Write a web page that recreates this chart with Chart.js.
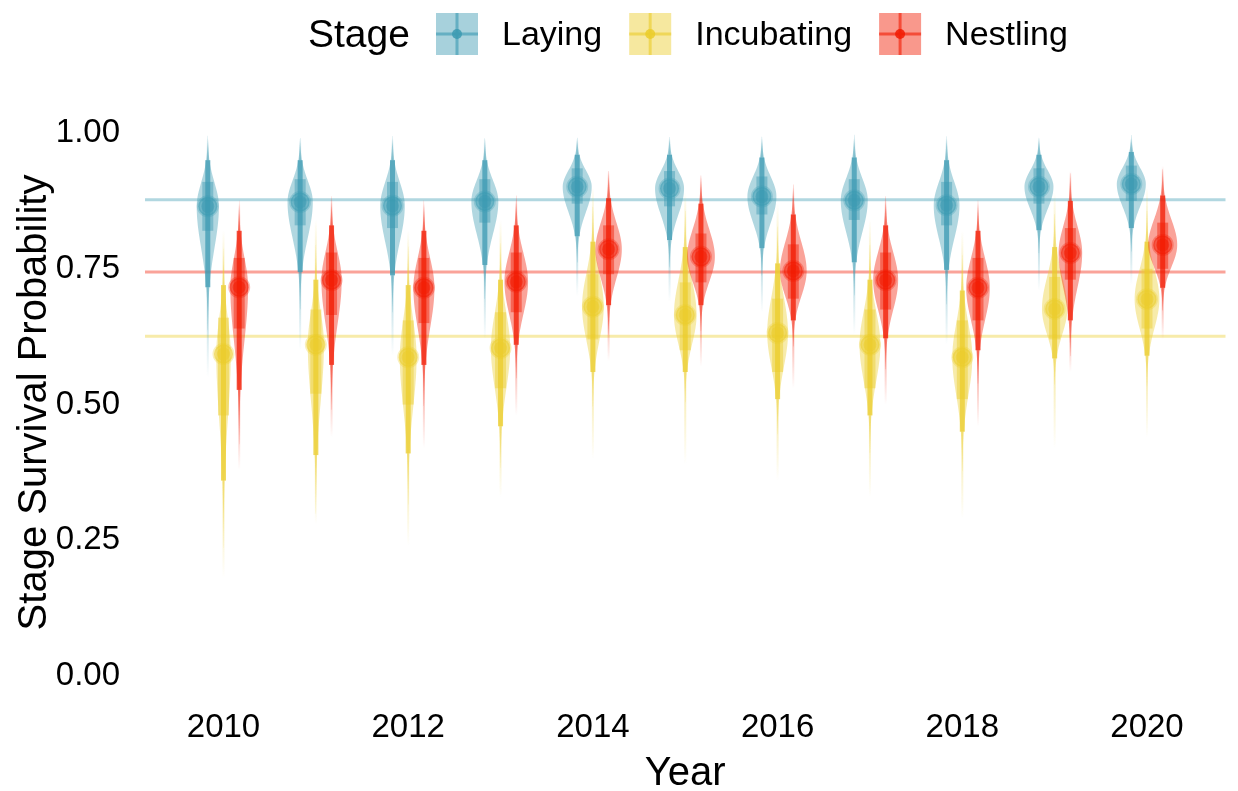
<!DOCTYPE html>
<html>
<head>
<meta charset="utf-8">
<script src="https://cdn.jsdelivr.net/npm/chart.js@4"></script>
<style>
  html, body { margin: 0; padding: 0; background: #ffffff; }
  #wrap { width: 1238px; height: 791px; }
</style>
</head>
<body>
<div id="wrap"><canvas id="myChart" width="1238" height="791"></canvas></div>
<script>
// Anni e stadi
var years = [2010, 2011, 2012, 2013, 2014, 2015, 2016, 2017, 2018, 2019, 2020];
var stages = ["Laying", "Incubating", "Nestling"];
var stageColors = ["#3B9AB2", "#EBCC2A", "#F21A00"];

// Linee di riferimento (media per stadio)
var refLines = [0.877, 0.626, 0.744];

// Laying
var layMed = [0.865, 0.873, 0.866, 0.874, 0.901, 0.898, 0.883, 0.876, 0.867, 0.901, 0.906];
var layLo66 = [0.82, 0.83, 0.825, 0.835, 0.87, 0.865, 0.85, 0.84, 0.83, 0.87, 0.875];
var layHi66 = [0.91, 0.915, 0.91, 0.915, 0.935, 0.93, 0.92, 0.915, 0.91, 0.935, 0.94];
var layLo95 = [0.716, 0.744, 0.738, 0.757, 0.81, 0.803, 0.788, 0.762, 0.748, 0.821, 0.825];
var layHi95 = [0.95, 0.95, 0.95, 0.95, 0.96, 0.96, 0.955, 0.955, 0.95, 0.96, 0.965];
var layTailLo = [0.55, 0.6, 0.59, 0.62, 0.7, 0.69, 0.67, 0.63, 0.61, 0.71, 0.72];
var layTailHi = [0.99, 0.99, 0.99, 0.99, 0.99, 0.99, 0.99, 0.99, 0.99, 0.99, 0.99];

// Incubating
var incMed = [0.593, 0.61, 0.587, 0.604, 0.68, 0.665, 0.632, 0.61, 0.587, 0.676, 0.694];
var incLo66 = [0.48, 0.52, 0.5, 0.53, 0.62, 0.6, 0.56, 0.53, 0.51, 0.62, 0.64];
var incHi66 = [0.66, 0.675, 0.655, 0.67, 0.74, 0.725, 0.695, 0.675, 0.655, 0.735, 0.75];
var incLo95 = [0.36, 0.407, 0.41, 0.46, 0.56, 0.56, 0.51, 0.48, 0.45, 0.585, 0.59];
var incHi95 = [0.72, 0.73, 0.72, 0.73, 0.8, 0.79, 0.76, 0.73, 0.71, 0.79, 0.8];
var incTailLo = [0.18, 0.28, 0.24, 0.33, 0.4, 0.39, 0.36, 0.33, 0.29, 0.42, 0.44];
var incTailHi = [0.82, 0.84, 0.82, 0.84, 0.9, 0.89, 0.87, 0.84, 0.82, 0.89, 0.9];

// Nestling
var nesMed = [0.716, 0.729, 0.715, 0.726, 0.786, 0.772, 0.746, 0.729, 0.715, 0.779, 0.794];
var nesLo66 = [0.64, 0.665, 0.65, 0.67, 0.74, 0.725, 0.695, 0.675, 0.655, 0.73, 0.75];
var nesHi66 = [0.77, 0.78, 0.77, 0.78, 0.83, 0.815, 0.795, 0.78, 0.77, 0.825, 0.835];
var nesLo95 = [0.527, 0.573, 0.573, 0.61, 0.683, 0.683, 0.655, 0.622, 0.6, 0.655, 0.715];
var nesHi95 = [0.82, 0.83, 0.82, 0.83, 0.88, 0.87, 0.85, 0.83, 0.82, 0.875, 0.885];
var nesTailLo = [0.38, 0.44, 0.42, 0.48, 0.58, 0.57, 0.53, 0.5, 0.46, 0.56, 0.62];
var nesTailHi = [0.87, 0.88, 0.87, 0.88, 0.93, 0.92, 0.9, 0.88, 0.87, 0.93, 0.94];

// Tick
var xTicks = [2010, 2012, 2014, 2016, 2018, 2020];
var yTicks = [0, 0.25, 0.5, 0.75, 1];

// Raggruppo per stadio (stesso ordine di "stages")
var med = [layMed, incMed, nesMed];
var lo66 = [layLo66, incLo66, nesLo66];
var hi66 = [layHi66, incHi66, nesHi66];
var lo95 = [layLo95, incLo95, nesLo95];
var hi95 = [layHi95, incHi95, nesHi95];
var tailLo = [layTailLo, incTailLo, nesTailLo];
var tailHi = [layTailHi, incTailHi, nesTailHi];
var dodge = [-0.17, 0, 0.17];

var FONT = "'Liberation Sans', Arial, sans-serif";

function rgba(hex, a) {
  var r = parseInt(hex.slice(1, 3), 16);
  var g = parseInt(hex.slice(3, 5), 16);
  var b = parseInt(hex.slice(5, 7), 16);
  return "rgba(" + r + "," + g + "," + b + "," + a + ")";
}

// Disegna la forma "ad occhio" (densità approssimata dagli intervalli)
function drawEye(ctx, px, ys, m, lo, hi, halfW) {
  var su = (hi - m) / 1.96;
  var sd = (m - lo) / 1.96;
  var pts = [];
  for (var k = 0; k <= 80; k++) {
    var z = -3 + (6 * k) / 80;
    var s = z < 0 ? sd : su;
    var v = m + z * s;
    pts.push([ys.getPixelForValue(v), halfW * Math.exp(-0.5 * z * z)]);
  }
  ctx.beginPath();
  pts.forEach(function (p, k) {
    if (k === 0) ctx.moveTo(px - p[1], p[0]);
    else ctx.lineTo(px - p[1], p[0]);
  });
  for (var k2 = pts.length - 1; k2 >= 0; k2--) ctx.lineTo(px + pts[k2][1], pts[k2][0]);
  ctx.closePath();
  ctx.fill();
}

function fadeLine(ctx, px, y0, y1, color) {
  var g = ctx.createLinearGradient(0, y0, 0, y1);
  g.addColorStop(0, rgba(color, 0.45));
  g.addColorStop(1, rgba(color, 0));
  ctx.strokeStyle = g;
  ctx.lineWidth = 2;
  ctx.beginPath();
  ctx.moveTo(px, y0);
  ctx.lineTo(px, y1);
  ctx.stroke();
}

var eyePlugin = {
  id: "eyes",
  beforeDatasetsDraw: function (chart) {
    var ctx = chart.ctx, xs = chart.scales.x, ys = chart.scales.y, area = chart.chartArea;
    ctx.save();
    // linee orizzontali di riferimento
    refLines.forEach(function (v, i) {
      var y = ys.getPixelForValue(v);
      ctx.strokeStyle = rgba(stageColors[i], 0.4);
      ctx.lineWidth = 3;
      ctx.beginPath();
      ctx.moveTo(area.left, y);
      ctx.lineTo(area.right, y);
      ctx.stroke();
    });
    stages.forEach(function (st, i) {
      var c = stageColors[i];
      years.forEach(function (yr, j) {
        var px = xs.getPixelForValue(yr + dodge[i]);
        // code sfumate
        fadeLine(ctx, px, ys.getPixelForValue(lo95[i][j]), ys.getPixelForValue(tailLo[i][j]), c);
        fadeLine(ctx, px, ys.getPixelForValue(hi95[i][j]), ys.getPixelForValue(tailHi[i][j]), c);
        // forma a occhio
        var halfW = Math.max(5.5, Math.min(14.5, 2.6 / (hi95[i][j] - lo95[i][j])));
        ctx.fillStyle = rgba(c, 0.4);
        drawEye(ctx, px, ys, med[i][j], lo95[i][j], hi95[i][j], halfW);
        // intervallo 95%
        var yA = ys.getPixelForValue(hi95[i][j]);
        var yB = ys.getPixelForValue(lo95[i][j]);
        ctx.fillStyle = rgba(c, 0.75);
        ctx.fillRect(px - 2.5, yA, 5, yB - yA);
        // intervallo 66%
        var yC = ys.getPixelForValue(hi66[i][j]);
        var yD = ys.getPixelForValue(lo66[i][j]);
        ctx.fillStyle = rgba(c, 0.45);
        ctx.fillRect(px - 5.5, yC, 11, yD - yC);
      });
    });
    ctx.restore();
  },
  afterDatasetsDraw: function (chart) {
    var ctx = chart.ctx, xs = chart.scales.x, ys = chart.scales.y;
    ctx.save();
    stages.forEach(function (st, i) {
      years.forEach(function (yr, j) {
        var px = xs.getPixelForValue(yr + dodge[i]);
        var py = ys.getPixelForValue(med[i][j]);
        ctx.fillStyle = rgba(stageColors[i], 0.45);
        ctx.beginPath();
        ctx.arc(px, py, 6.5, 0, Math.PI * 2);
        ctx.fill();
      });
    });
    ctx.restore();
  },
  afterDraw: function (chart) {
    // legenda disegnata a mano (stile ggplot)
    var ctx = chart.ctx;
    ctx.save();
    ctx.textBaseline = "middle";
    ctx.textAlign = "left";
    ctx.fillStyle = "#000000";
    ctx.font = "39px " + FONT;
    ctx.fillText("Stage", 308, 36);
    ctx.font = "34px " + FONT;
    var bx = 436, top = 13, size = 42;
    stages.forEach(function (st, i) {
      var c = stageColors[i];
      ctx.fillStyle = rgba(c, 0.45);
      ctx.fillRect(bx, top, size, size);
      ctx.strokeStyle = rgba(c, 0.6);
      ctx.lineWidth = 3;
      ctx.beginPath();
      ctx.moveTo(bx + size / 2, top);
      ctx.lineTo(bx + size / 2, top + size);
      ctx.moveTo(bx, top + size / 2);
      ctx.lineTo(bx + size, top + size / 2);
      ctx.stroke();
      ctx.fillStyle = rgba(c, 0.85);
      ctx.beginPath();
      ctx.arc(bx + size / 2, top + size / 2, 5, 0, Math.PI * 2);
      ctx.fill();
      ctx.fillStyle = "#000000";
      var lx = bx + size + 24;
      ctx.fillText(st, lx, 36);
      bx = lx + ctx.measureText(st).width + 27;
    });
    ctx.restore();
  }
};

var datasets = stages.map(function (st, i) {
  return {
    label: st,
    data: years.map(function (yr, j) { return { x: yr + dodge[i], y: med[i][j] }; }),
    backgroundColor: rgba(stageColors[i], 0.55),
    borderColor: rgba(stageColors[i], 0.3),
    borderWidth: 3,
    pointRadius: 9.5,
    pointHoverRadius: 9.5
  };
});

new Chart("myChart", {
  type: "scatter",
  data: { datasets: datasets },
  options: {
    responsive: false,
    animation: false,
    devicePixelRatio: 1,
    layout: { padding: { top: 105, right: 6, left: 0, bottom: 0 } },
    plugins: {
      legend: { display: false },
      tooltip: { enabled: false }
    },
    scales: {
      x: {
        type: "linear",
        min: 2009.15,
        max: 2020.85,
        grid: { display: false },
        border: { display: false },
        afterBuildTicks: function (s) { s.ticks = xTicks.map(function (v) { return { value: v }; }); },
        afterFit: function (s) { s.height = 91; },
        ticks: {
          color: "#000000",
          font: { family: FONT, size: 33 },
          padding: 0,
          maxRotation: 0,
          callback: function (v) { return String(v); }
        },
        title: {
          display: true,
          text: "Year",
          color: "#000000",
          font: { family: FONT, size: 40, lineHeight: 1 },
          padding: { bottom: -3 }
        }
      },
      y: {
        type: "linear",
        min: -0.044,
        max: 1.0516,
        grid: { display: false },
        border: { display: false },
        afterBuildTicks: function (s) { s.ticks = yTicks.map(function (v) { return { value: v }; }); },
        afterFit: function (s) { s.width = 145; },
        ticks: {
          color: "#000000",
          font: { family: FONT, size: 33 },
          padding: 17,
          callback: function (v) { return Number(v).toFixed(2); }
        },
        title: {
          display: true,
          text: "Stage Survival Probability",
          color: "#000000",
          font: { family: FONT, size: 40, lineHeight: 1 },
          padding: { top: 15 }
        }
      }
    }
  },
  plugins: [eyePlugin]
});
</script>
</body>
</html>
